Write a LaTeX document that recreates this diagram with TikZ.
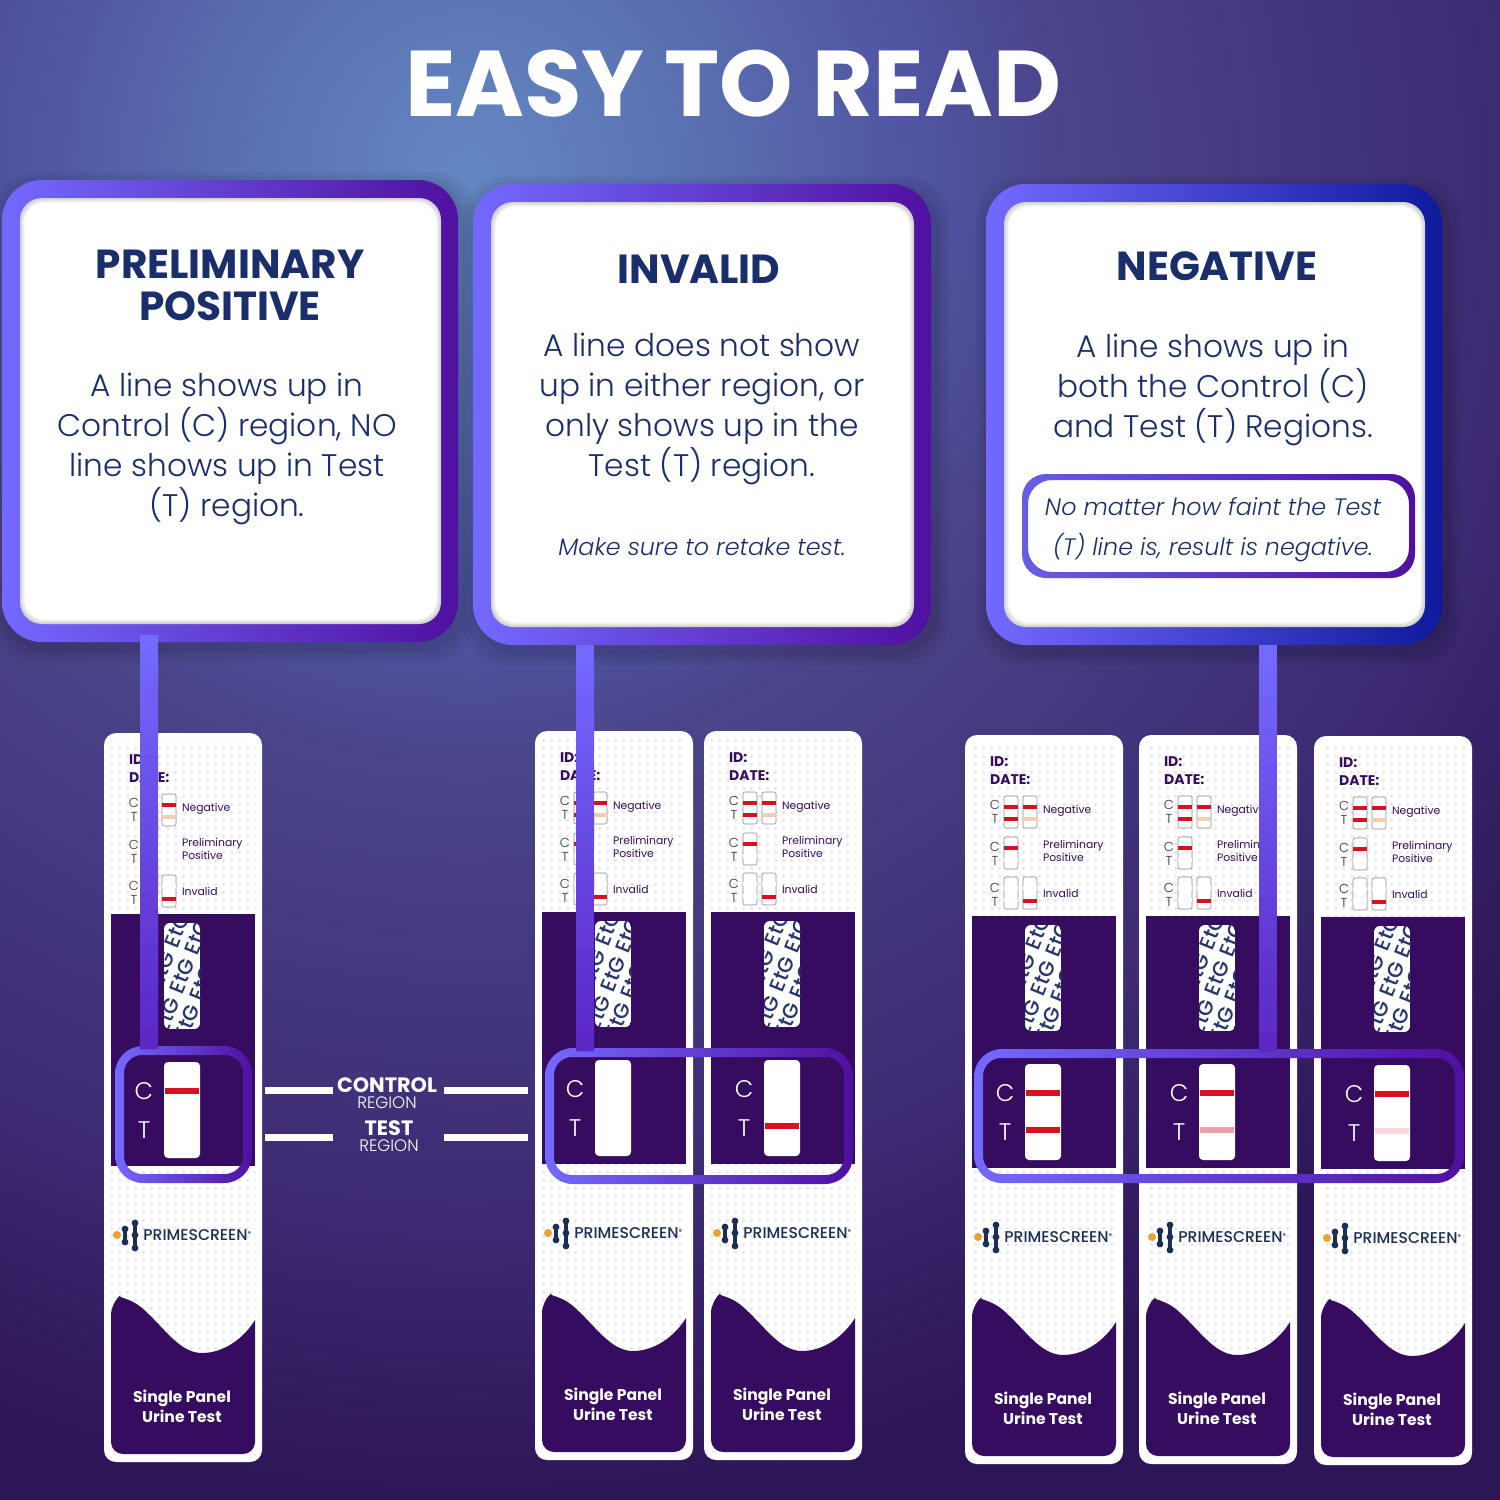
\documentclass[tikz,border=0pt]{standalone}
\usepackage{fontspec}
\setmainfont{Poppins}
\newfontfamily\lightfont{Poppins Light}
\newfontfamily\mediumfont{Poppins Medium}
\usetikzlibrary{calc,patterns.meta}

\definecolor{bgA}{HTML}{6487C2}
\definecolor{bgB}{HTML}{5C74B4}
\definecolor{bgC}{HTML}{4F52A0}
\definecolor{bgD}{HTML}{4A4488}
\definecolor{bgE}{HTML}{3D2A72}
\definecolor{bgF}{HTML}{2D1658}
\definecolor{statusleft}{HTML}{7469FF}
\definecolor{statusright}{HTML}{5010A0}
\definecolor{statusblue}{HTML}{0F1A9C}
\definecolor{linkend}{HTML}{5A25C4}
\definecolor{navy}{HTML}{1A2E6C}
\definecolor{carddark}{HTML}{350C5F}
\definecolor{dotgrey}{HTML}{E6E6EE}
\definecolor{teststrip}{HTML}{D8101F}
\definecolor{pinkmid}{HTML}{EEA0A8}
\definecolor{pinklow}{HTML}{F8D8DC}
\definecolor{peach}{HTML}{F6CDB0}
\definecolor{logodot}{HTML}{EEA030}
\definecolor{logonavy}{HTML}{1B2F55}
\definecolor{etgblue}{HTML}{26366E}

\pgfdeclareradialshading{bgglow}{\pgfpoint{0bp}{0bp}}{%
  color(0bp)=(bgA);color(2.7bp)=(bgB);color(6.5bp)=(bgC);color(8.4bp)=(bgD);color(14.5bp)=(bgE);color(18.5bp)=(bgF);color(50bp)=(bgF)}

\tikzset{
  titletext/.style={font=\fontsize{46.7}{46.7}\selectfont\bfseries,text=white},
  headtext/.style={font=\fontsize{20.3}{21}\selectfont\bfseries,text=navy,align=center},
  bodytext/.style={font=\lightfont\fontsize{15.6}{20}\selectfont,text=navy,align=center},
  notetext/.style={font=\lightfont\itshape\fontsize{11.9}{20}\selectfont,text=navy,align=center},
  regionbig/.style={font=\fontsize{10.4}{10.4}\selectfont\bfseries,text=white},
  regionsmall/.style={font=\lightfont\fontsize{8.3}{8.3}\selectfont,text=white},
  regionline/.style={line width=3.5pt,white},
  keytext/.style={font=\fontsize{5.4}{5}\selectfont,text=carddark,anchor=west,align=left},
  keyletter/.style={font=\lightfont\fontsize{6.5}{6.5}\selectfont,text=black!80,inner sep=0pt},
  idtext/.style={font=\fontsize{7}{7}\selectfont\bfseries,text=carddark,anchor=west},
  windowletter/.style={font=\lightfont\fontsize{12}{12}\selectfont,text=white},
  stripline/.style={line width=3pt},
  minibox/.style={fill=white,draw=black!45,line width=0.3pt,rounded corners=1pt},
}

% one result box, outer gradient ring and white face
\newcommand{\statusbox}[6]{
  \foreach \g in {14,10,6,3}
    \fill[black,opacity=0.04,rounded corners=22pt] ({#2-\g+4},{#3-\g+6}) rectangle ({#4+\g+4},{#5+\g+6});
  \shade[rounded corners=20pt,left color=statusleft,right color=#6] (#2,#3) rectangle (#4,#5);
  \foreach \i/\c in {0/55,1/65,2/75,3/85,4/93,5/100}
    \fill[white!\c!black!40!white,rounded corners=11pt] ({#2+18+\i},{#3+18+\i}) rectangle ({#4-17-\i},{#5-18-\i});
  \fill[white,rounded corners=9pt] ({#2+23},{#3+23}) rectangle ({#4-22},{#5-23});
  \coordinate (#1) at ({(#2+#4)/2},#5);
}

% gradient ring round the C and T lines
\newcommand{\regionframe}[5]{
  \shade[left color=statusleft,right color=statusright,even odd rule,rounded corners=14pt]
    (#2,#3) rectangle (#4,#5) [rounded corners=9pt] ({#2+9},{#3+9}) rectangle ({#4-9},{#5-9});
  \coordinate (#1) at ({(#2+#4)/2},#3);
}

% thick link from a box down to a ring
\newcommand{\linkbar}[2]{
  \foreach \s [evaluate=\s as \f using \s/24, evaluate=\s as \e using (\s+1.2)/24, evaluate=\s as \p using \s*100/24] in {0,...,23}
    \draw[line width=9pt,color=linkend!\p!statusleft] ($(#1)!\f!(#2)$) -- ($(#1)!\e!(#2)$);
}

\newcommand{\ministrip}[5]{
  \path[minibox] (#1,#2) rectangle ({#1+14},{#2+32});
  \fill[#3] (#1,{#2+9}) rectangle ({#1+14},{#2+12.5});
  \fill[#4] (#1,{#2+#5}) rectangle ({#1+14},{#2+#5+3.5});
}

% the test card: name, left, top, colour of the C line, colour of the T line
\newcommand{\testcard}[5]{
\begin{scope}[shift={(#2,#3)},name prefix=#1-]
  \fill[white,rounded corners=6pt] (0,0) rectangle (158,729);
  \fill[pattern={Dots[distance=4pt,radius=1.05pt]},pattern color=dotgrey] (7,8) rectangle (151,181);
  \fill[pattern={Dots[distance=4pt,radius=1.05pt]},pattern color=dotgrey] (7,433) rectangle (151,630);
  % key at the top
  \node[idtext] (id) at (18,27) {ID:};
  \node[idtext] (date) at (18,45) {DATE:};
  \foreach \r/\yy in {a/70,b/112,c/153}{
    \node[keyletter] (c\r) at (30,\yy) {C};
    \node[keyletter] (t\r) at (30,{\yy+14}) {T};
  }
  \ministrip{39}{61}{teststrip}{teststrip}{21}
  \ministrip{58}{61}{teststrip}{peach}{21}
  \ministrip{39}{102}{teststrip}{white}{21}
  \ministrip{39}{142}{white}{white}{21}
  \ministrip{58}{142}{white}{teststrip}{22}
  \node[keytext] (neg) at (71,76) {Negative};
  \node[keytext] (pre) at (71,116) {Preliminary\\Positive};
  \node[keytext] (inv) at (71,158) {Invalid};
  % dark part with the two windows
  \fill[carddark] (7,181) rectangle (151,433);
  \begin{scope}
    \clip[rounded corners=3pt] (60,190) rectangle (96,296);
    \fill[white] (60,190) rectangle (96,296);
    \foreach \k/\m in {-1/-1,0/-1,1/-1,-1/0,0/0,1/0,-1/1,0/1,1/1}
      \node[font=\mediumfont\fontsize{10.5}{10.5}\selectfont,text=etgblue,rotate=68,inner sep=0pt] (etg\k\m) at ({78+\k*15+\m*20},{243-\k*39+\m*7}) {EtG};
  \end{scope}
  \fill[white,rounded corners=2pt] (60,329) rectangle (96,425);
  \draw[stripline,#4] (61,358) -- (95,358);
  \draw[stripline,#5] (61,395) -- (95,395);
  \node[windowletter] (bigc) at (40,358) {C};
  \node[windowletter] (bigt) at (40,397) {T};
  % logo
  \fill[logodot] (13,502) circle (4);
  \draw[logonavy,line width=2.2pt] (21,496) -- (21,509) (31,490) -- (31,515);
  \foreach \xx/\yy in {21/496,21/509,31/490,31/502,31/515}
    \fill[logonavy] (\xx,\yy) circle (3.4);
  \node[font=\mediumfont\fontsize{7.8}{7.8}\selectfont,text=logonavy,anchor=west,inner sep=0pt] (brand) at (39,502) {PRIMESCREEN\raisebox{0.45ex}{\fontsize{3.5}{3.5}\selectfont ®}};
  % wave and the bottom label
  \fill[carddark] (7,570) .. controls (13,565) and (25,564) .. (38,575) .. controls (60,594) and (75,620) .. (98,620)
    .. controls (120,620) and (140,605) .. (151,587) [rounded corners=6pt] -- (151,721) -- (7,721) -- cycle;
  \node[font=\fontsize{7.8}{10}\selectfont\bfseries,text=white,align=center] (label) at (78,673) {Single Panel\\Urine Test};
\end{scope}
}

\begin{document}
\begin{tikzpicture}[x=0.5pt,y=-0.5pt]
\useasboundingbox (0,0) rectangle (1500,1500);
\begin{scope}
  \clip (0,0) rectangle (1500,1500);
  \shade[shading=bgglow] (-1330,-1630) rectangle (2270,1970);
\end{scope}

\node[titletext] (title) at (733,84) {EASY TO READ};

% the three result boxes
\statusbox{prelimbox}{2}{180}{458}{642}{statusright}
\statusbox{invalidbox}{473}{184}{931}{645}{statusright}
\statusbox{negbox}{986}{184}{1442}{645}{statusblue}

\node[headtext] (prelimhead) at (230,285) {PRELIMINARY\\POSITIVE};
\node[bodytext] (prelimbody) at (227,449) {A line shows up in\\Control (C) region, NO\\line shows up in Test\\(T) region.};

\node[headtext] (invalidhead) at (699,269) {INVALID};
\node[bodytext] (invalidbody) at (702,409) {A line does not show\\up in either region, or\\only shows up in the\\Test (T) region.};
\node[notetext] (invalidnote) at (702,547) {Make sure to retake test.};

\node[headtext] (neghead) at (1217,266) {NEGATIVE};
\node[bodytext] (negbody) at (1213,390) {A line shows up in\\both the Control (C)\\and Test (T) Regions.};
\shade[left color=statusleft!90!black,right color=statusright,rounded corners=12pt,even odd rule]
  (1022,474) rectangle (1415,578) (1028,480) rectangle (1409,572);
\node[notetext] (negnote) at (1213,530) {No matter how faint the Test\\(T) line is, result is negative.};

% the cards
\testcard{cardone}{104}{733}{teststrip}{white}
\testcard{cardtwo}{535}{731}{white}{white}
\testcard{cardthree}{704}{731}{white}{teststrip}
\testcard{cardfour}{965}{735}{teststrip}{teststrip}
\testcard{cardfive}{1139}{735}{teststrip}{pinkmid}
\testcard{cardsix}{1314}{736}{teststrip}{pinklow}

% labels between first and second card
\node[regionbig] (ctrlhead) at (387,1085) {CONTROL};
\node[regionsmall] (ctrlsub) at (387,1103) {REGION};
\node[regionbig] (testhead) at (389,1128) {TEST};
\node[regionsmall] (testsub) at (389,1146) {REGION};
\coordinate (ctrlL) at (265,1090.5);
\coordinate (ctrlR) at (528,1090.5);
\coordinate (testL) at (265,1137);
\coordinate (testR) at (528,1137);
\draw[regionline] (ctrlL) -- (ctrlL -| 333,0);
\draw[regionline] (ctrlR) -- (ctrlR -| 444,0);
\draw[regionline] (testL) -- (testL -| 333,0);
\draw[regionline] (testR) -- (testR -| 444,0);

% links and rings
\regionframe{prelimframe}{115}{1046}{252}{1183}
\regionframe{invalidframe}{545}{1048}{853}{1184}
\regionframe{negframe}{974}{1049}{1464}{1183}
\coordinate (prelimtop) at (149,635);
\coordinate (invalidtop) at (585,645);
\coordinate (negtop) at (1268,645);
\linkbar{prelimtop}{149,0 |- prelimframe}
\linkbar{invalidtop}{585,0 |- invalidframe}
\linkbar{negtop}{1268,0 |- negframe}
\end{tikzpicture}
\end{document}
